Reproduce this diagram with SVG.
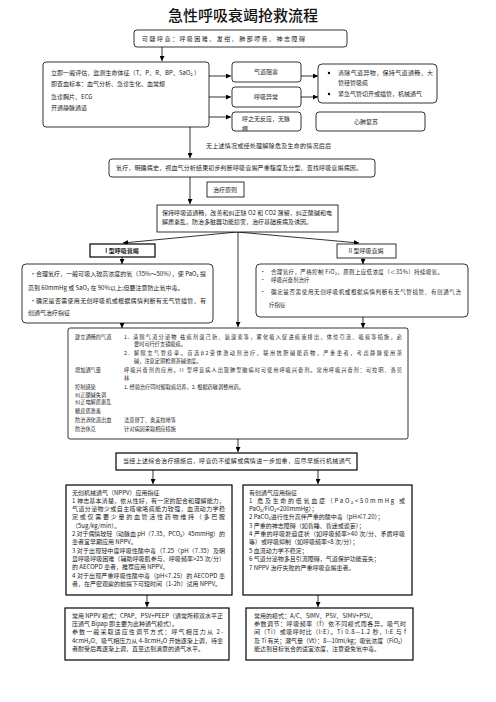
<svg xmlns="http://www.w3.org/2000/svg" width="496" height="702" viewBox="0 0 496 702">
<style>
.bg{fill:#fff}
.b{fill:#fff;stroke:#000;stroke-width:0.8}
.bk{fill:#fff;stroke:#000;stroke-width:1.2}
.t{font-family:"Noto Sans CJK SC","Noto Sans",sans-serif;font-size:6px;fill:#222}
.s{font-size:5.2px}
.m{font-size:5.5px}
.c{stroke:#000;stroke-width:0.8;fill:none}
.ttl{font-family:"Noto Sans CJK SC","Noto Sans",sans-serif;font-size:15px;fill:#111;font-weight:500}
</style>
<defs>
<marker id="a" markerWidth="5" markerHeight="5" refX="5" refY="2.5" orient="auto" markerUnits="userSpaceOnUse"><path d="M0,0 L5,2.5 L0,5 z" fill="#000"/></marker>
<clipPath id="clip3"><rect x="232" y="112" width="69" height="19"/></clipPath>
</defs>
<rect class="bg" x="0" y="0" width="496" height="702"/>
<text class="ttl" x="243" y="21" text-anchor="middle">急性呼吸衰竭抢救流程</text>

<g id="connectors">
<path class="c" d="M162,47 V61" marker-end="url(#a)"/>
<path class="c" d="M209,76 H231" marker-end="url(#a)"/>
<path class="c" d="M209,97 H231" marker-end="url(#a)"/>
<path class="c" d="M209,117 H231" marker-end="url(#a)"/>
<path class="c" d="M301,76 H318" marker-end="url(#a)"/>
<path class="c" d="M301,97 H318" marker-end="url(#a)"/>
<path class="c" d="M190,127 V158" marker-end="url(#a)"/>
<path class="c" d="M190,177 V204" marker-end="url(#a)"/>
<path class="c" d="M237,232 L123,243" marker-end="url(#a)"/>
<path class="c" d="M237,232 L359,243" marker-end="url(#a)"/>
<path class="c" d="M238,232 V327" marker-end="url(#a)"/>
<path class="c" d="M122,257 V264" marker-end="url(#a)"/>
<path class="c" d="M363,258 V264" marker-end="url(#a)"/>
<path class="c" d="M122,323 V328" marker-end="url(#a)"/>
<path class="c" d="M363,317 V328" marker-end="url(#a)"/>
<path class="c" d="M238,439 V452" marker-end="url(#a)"/>
<path class="c" d="M153,470 V484" marker-end="url(#a)"/>
<path class="c" d="M318,470 V484" marker-end="url(#a)"/>
<path class="c" d="M147,595 V607" marker-end="url(#a)"/>
<path class="c" d="M318,595 V607" marker-end="url(#a)"/>
</g>

<g id="n-suspect">
<rect class="b" x="134" y="30" width="213" height="17" rx="3"/>
<text class="t" x="142" y="41" font-size="7" textLength="163">可疑呼衰：呼吸困难、发绀、肺部啰音、神志障碍</text>
</g>

<g id="n-assess">
<rect class="b" x="43" y="62" width="166" height="65" rx="3"/>
<text class="t" x="51" y="75" textLength="149">立即一般评估，监测生命体征（T、P、R、BP、SaO₂ ）</text>
<text class="t" x="51" y="86">即查血标本：血气分析、急诊生化、血常规</text>
<text class="t" x="51" y="99">急诊胸片、ECG</text>
<text class="t" x="51" y="110">开通静脉通道</text>
</g>

<g id="n-obstruct">
<rect class="b" x="232" y="62" width="69" height="20" rx="3"/>
<text class="t" x="266" y="74" text-anchor="middle">气道阻塞</text>
</g>
<g id="n-abnormal">
<rect class="b" x="232" y="87" width="69" height="20" rx="3"/>
<text class="t" x="266" y="99" text-anchor="middle">呼吸异常</text>
</g>
<g id="n-nopulse">
<rect class="b" x="232" y="112" width="69" height="19" rx="3"/>
<g clip-path="url(#clip3)">
<text class="t" x="266" y="121" text-anchor="middle">呼之无反应，无脉</text>
<text class="t" x="242" y="131">搏</text>
</g>
</g>
<g id="n-airway">
<rect class="b" x="318" y="64" width="119" height="39" rx="4"/>
<circle cx="329" cy="73" r="1.2" fill="#000"/>
<text class="t" x="338" y="75" textLength="95">清除气道异物，保持气道通畅，大</text>
<text class="t" x="338" y="85">管径管吸痰</text>
<circle cx="329" cy="94" r="1.2" fill="#000"/>
<text class="t" x="338" y="96">紧急气管切开或插管，机械通气</text>
</g>
<g id="n-cpr">
<rect class="b" x="316" y="112" width="109" height="19" rx="3"/>
<text class="t" x="366" y="124" text-anchor="middle">心肺复苏</text>
</g>

<text class="t" x="206" y="148" textLength="125">无上述情况或经处理解除危及生命的情况后后</text>

<g id="n-oxygen">
<rect class="b" x="109" y="159" width="266" height="18" rx="3"/>
<text class="t" x="116" y="170" textLength="246">氧疗，明确病史，视血气分析结果初步判断呼吸衰竭严重程度及分型，查找呼吸衰竭病因。</text>
</g>

<g id="n-principle">
<rect class="b" x="207" y="182" width="37" height="15"/>
<text class="t" x="213" y="192">治疗原则</text>
</g>

<g id="n-keep">
<rect class="b" x="157" y="205" width="181" height="27"/>
<text class="t" x="162" y="215" textLength="170">保持呼吸道通畅，改善和纠正缺 O2 和 CO2 潴留，纠正酸碱和电</text>
<text class="t" x="162" y="224">解质紊乱，防治多脏器功能损害，治疗基础疾病及诱因。</text>
</g>

<g id="n-type1">
<rect class="bk" x="90" y="244" width="65" height="13"/>
<text class="t" x="122" y="253" text-anchor="middle" font-weight="bold">I 型呼吸衰竭</text>
</g>
<g id="n-type1-detail">
<rect class="b" x="22" y="264" width="191" height="59" rx="4"/>
<text class="t" x="30" y="276">•</text>
<text class="t" x="36" y="276" textLength="170">合理氧疗，一般可吸入较高浓度的氧（35%～50%），使 PaO₂ 提</text>
<text class="t" x="28" y="290">高到 60mmHg 或 SaO₂ 在 90%以上;但要注意防止氧中毒。</text>
<text class="t" x="30" y="303">•</text>
<text class="t" x="36" y="303" textLength="170">确定是否需使用无创呼吸机或根据病情判断有无气管插管、有</text>
<text class="t" x="28" y="315">创通气治疗指征</text>
</g>

<g id="n-type2">
<rect class="b" x="337" y="244" width="59" height="14"/>
<text class="t" x="366" y="253" text-anchor="middle">II 型呼吸衰竭</text>
</g>
<g id="n-type2-detail">
<rect class="b" x="256" y="264" width="212" height="53" rx="4"/>
<text class="t m" x="260" y="274">•</text>
<text class="t m" x="271" y="274" textLength="172">合理氧疗，严格控制 FiO₂，原则上应低浓度（＜35%）持续吸氧。</text>
<text class="t m" x="260" y="282">•</text>
<text class="t m" x="271" y="282">呼吸兴奋剂治疗</text>
<text class="t m" x="260" y="294">•</text>
<text class="t m" x="271" y="294" textLength="190">确定是否需使用无创呼吸机或根据病情判断有无气管插管、有创通气治</text>
<text class="t m" x="269" y="307">疗指征</text>
</g>

<g id="n-measures">
<rect class="b" x="68" y="328" width="340" height="111" rx="2"/>
<text class="t s" x="75" y="339">建立通畅的气道</text>
<text class="t s" x="124" y="339" textLength="278">1. 清除气道分泌物  祛痰剂溴己新、氨溴索等，雾化吸入促进痰液排出，体位引流、吸痰等措施，必</text>
<text class="t s" x="134" y="345.5">要时可行纤支镜吸痰。</text>
<text class="t s" x="124" y="355" textLength="278">2. 解除支气管痉挛。首选β2受体激动剂治疗，联用抗胆碱能药物，严重患者，考虑静脉使用茶</text>
<text class="t s" x="134" y="363">碱，注意定期检测茶碱浓度。</text>
<text class="t s" x="75" y="372">增加通气量</text>
<text class="t s" x="124" y="372" textLength="278">呼吸兴奋剂的应用。II 型呼衰病人出现肺型脑病时可使用呼吸兴奋剂。常用呼吸兴奋剂：可拉明、洛贝</text>
<text class="t s" x="124" y="379.5">林</text>
<text class="t s" x="75" y="389">控制感染</text>
<text class="t s" x="124" y="389">1. 经验治疗同时留取痰培养，2. 根据药敏调整用药。</text>
<text class="t s" x="75" y="396.5">纠正酸碱失调</text>
<text class="t s" x="75" y="404">纠正电解质紊乱</text>
<text class="t s" x="75" y="413">糖皮质激素</text>
<text class="t s" x="75" y="422">防治消化道出血</text>
<text class="t s" x="124" y="422">法莫替丁、奥美拉唑等</text>
<text class="t s" x="75" y="431">防治休克</text>
<text class="t s" x="124" y="431">针对病因采取相应措施</text>
</g>

<g id="n-mechanical">
<rect class="bk" x="116" y="453" width="241" height="17"/>
<text class="t" x="123" y="463" textLength="228">当经上述综合治疗措施后，呼衰仍不缓解或病情进一步加重，应尽早施行机械通气</text>
</g>

<g id="n-nppv">
<rect class="bk" x="66" y="485" width="166" height="110"/>
<text class="t" x="72" y="495">无创机械通气（NPPV）应用指征</text>
<text class="t" x="72" y="503" textLength="153">1 神志基本清楚，依从性好，有一定的配合和理解能力，</text>
<text class="t" x="72" y="511" textLength="153">气道分泌物少或自主咳嗽咯痰能力较强，血流动力学稳</text>
<text class="t" x="72" y="519" textLength="153">定或仅需要少量的血管活性药物维持（多巴胺</text>
<text class="t" x="72" y="528">（5ug/kg/min）。</text>
<text class="t" x="72" y="536" textLength="153">2 对于病情较轻（动脉血 pH〈7.35，PCO₂〉45mmHg）的</text>
<text class="t" x="72" y="544">患者宜早期应用 NPPV。</text>
<text class="t" x="72" y="553" textLength="153">3 对于出现轻中度呼吸性酸中毒（7.25〈pH〈7.35）及明</text>
<text class="t" x="72" y="561" textLength="153">显呼吸呼吸困难（辅助呼吸肌参与、呼吸频率&gt;25 次/分）</text>
<text class="t" x="72" y="569">的 AECOPD 患者，推荐应用 NPPV。</text>
<text class="t" x="72" y="578" textLength="153">4 对于出现严重呼吸性酸中毒（pH&lt;7.25）的 AECOPD 患</text>
<text class="t" x="72" y="586">者，在严密观察的前提下可短时间（1-2h）试用 NPPV。</text>
</g>

<g id="n-ippv">
<rect class="bk" x="243" y="485" width="169" height="110"/>
<text class="t" x="249" y="495">有创通气应用指征</text>
<text class="t" x="249" y="503" textLength="156">1 危及生命的低氧血症（PaO₂&lt;50mmHg 或</text>
<text class="t" x="249" y="511">PaO₂/FiO₂&lt;200mmHg）；</text>
<text class="t" x="249" y="519">2 PaCO₂进行性升高伴严重的酸中毒（pH≤7.20）；</text>
<text class="t" x="249" y="527.5">3 严重的神志障碍（如昏睡、昏迷或谵妄）；</text>
<text class="t" x="249" y="536" textLength="156">4 严重的呼吸窘迫症状（如呼吸频率&gt;40 次/分、矛盾呼吸</text>
<text class="t" x="249" y="544">等）或呼吸抑制（如呼吸频率&lt;8 次/分）；</text>
<text class="t" x="249" y="552.5">5 血流动力学不稳定；</text>
<text class="t" x="249" y="561">6 气道分泌物多且引流障碍，气道保护功能丧失；</text>
<text class="t" x="249" y="569.5">7 NPPV 治疗失败的严重呼吸衰竭患者。</text>
</g>

<g id="n-nppv-mode">
<rect class="bk" x="65" y="608" width="164" height="52"/>
<text class="t" x="72" y="618" textLength="151">常用 NPPV 模式：CPAP、PSV+PEEP（通常所称双水平正</text>
<text class="t" x="72" y="626">压通气 Bipap 即主要为此种通气模式）。</text>
<text class="t" x="72" y="634" textLength="151">参数一般采取适应性调节方式：呼气相压力从 2-</text>
<text class="t" x="72" y="643" textLength="151">4cmH₂O、吸气相压力从 4-8cmH₂O 开始逐渐上调，待患</text>
<text class="t" x="72" y="651">者耐受后再逐渐上调，直至达到满意的通气水平。</text>
</g>

<g id="n-ippv-mode">
<rect class="bk" x="246" y="608" width="167" height="52"/>
<text class="t" x="254" y="618">常用的模式：A/C、SIMV、PSV、SIMV+PSV。</text>
<text class="t" x="254" y="626" textLength="152">参数调节：呼吸频率（f）依不同模式而各异。吸气时</text>
<text class="t" x="254" y="634" textLength="152">间（Ti）或吸呼时比（I:E）。Ti 0.8—1.2 秒，I:E 与 f</text>
<text class="t" x="254" y="643" textLength="152">及 Ti 有关；潮气量（Vt）：8—10ml/kg；吸氧浓度（FiO₂）</text>
<text class="t" x="254" y="651">能达到目标氧合的适宜浓度，注意避免氧中毒。</text>
</g>
</svg>
